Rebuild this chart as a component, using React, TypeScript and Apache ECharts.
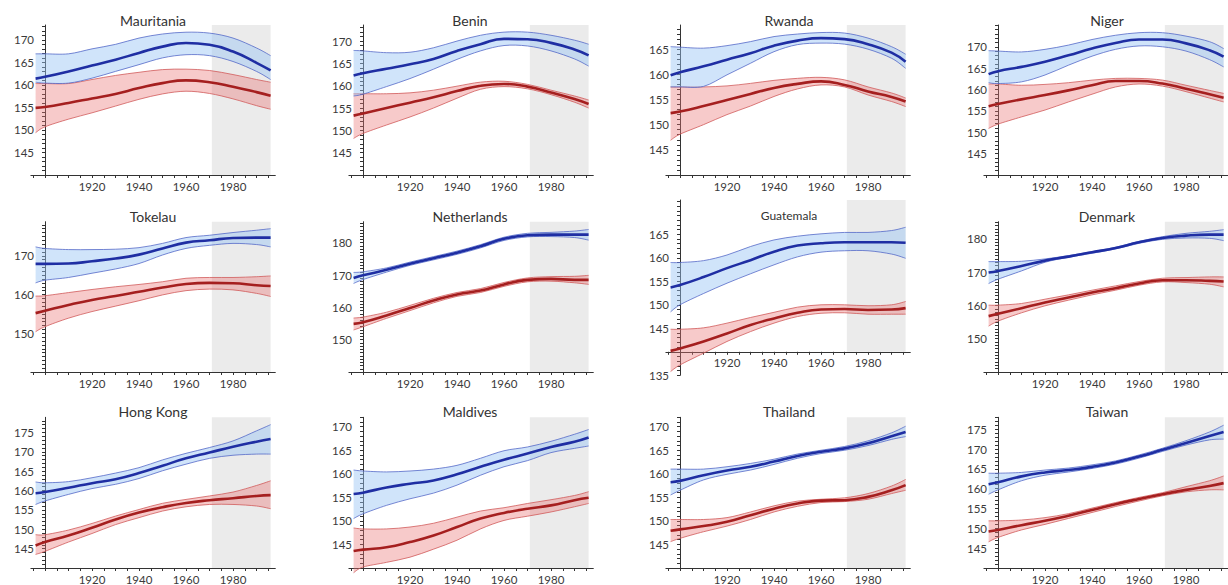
import React, { useEffect, useRef } from "react";
import * as echarts from "echarts";

// ---------- data ----------
const YEARS = [1896, 1900, 1910, 1920, 1930, 1940, 1950, 1960, 1970, 1980, 1990, 1996];
const X_LABELS = [1920, 1940, 1960, 1980];
const X_TICKS = [1895, 1900, 1905, 1910, 1915, 1920, 1925, 1930, 1935, 1940, 1945, 1950, 1955, 1960, 1965, 1970, 1975, 1980, 1985, 1990, 1995];
const SHADE_FROM = 1971;
const SHADE_TO = 1996;

const mauritania = {
  maleMean: [161.4, 161.8, 163.0, 164.3, 165.6, 167.1, 168.5, 169.3, 168.9, 167.4, 164.9, 163.2],
  maleLow: [160.6, 160.4, 160.4, 161.5, 163.0, 164.5, 166.0, 166.7, 166.5, 165.2, 163.0, 161.2],
  maleHigh: [166.9, 166.9, 166.9, 168.0, 169.0, 170.4, 171.3, 171.7, 171.5, 170.4, 168.2, 166.5],
  femMean: [154.9, 155.1, 156.0, 157.0, 158.0, 159.3, 160.4, 161.0, 160.6, 159.6, 158.4, 157.6],
  femLow: [149.4, 150.7, 152.4, 153.8, 155.3, 156.8, 158.0, 158.6, 158.1, 156.9, 155.4, 154.6],
  femHigh: [160.3, 160.3, 160.3, 161.2, 162.1, 162.8, 163.4, 163.5, 163.2, 162.3, 161.2, 160.6],
};
const benin = {
  maleMean: [162.3, 162.8, 163.8, 164.8, 166.0, 167.8, 169.3, 170.5, 170.4, 169.6, 168.1, 166.8],
  maleLow: [157.7, 158.1, 159.8, 161.6, 163.7, 165.9, 167.8, 169.0, 168.9, 167.8, 166.0, 164.4],
  maleHigh: [167.9, 167.8, 167.4, 167.5, 168.5, 170.0, 171.3, 172.0, 172.0, 171.3, 170.2, 169.3],
  femMean: [153.3, 153.8, 155.0, 156.2, 157.4, 158.8, 160.0, 160.4, 159.8, 158.5, 157.0, 155.9],
  femLow: [148.2, 149.3, 151.2, 153.0, 155.0, 157.2, 159.2, 159.8, 159.3, 158.0, 156.3, 155.0],
  femHigh: [158.2, 158.2, 158.2, 158.4, 159.0, 159.9, 160.8, 161.0, 160.3, 159.0, 157.7, 156.8],
};
const rwanda = {
  maleMean: [159.8, 160.4, 161.6, 162.9, 164.2, 165.7, 166.7, 167.2, 167.0, 166.0, 164.3, 162.5],
  maleLow: [157.5, 157.5, 157.6, 159.9, 162.2, 164.5, 165.9, 166.2, 166.0, 165.0, 163.2, 161.2],
  maleHigh: [165.5, 165.4, 165.2, 165.7, 166.5, 167.5, 168.0, 168.3, 168.2, 167.2, 165.5, 164.0],
  femMean: [152.3, 152.6, 153.7, 154.9, 156.1, 157.3, 158.1, 158.6, 157.9, 156.6, 155.5, 154.6],
  femLow: [146.9, 148.1, 150.0, 152.0, 153.7, 155.6, 157.1, 157.9, 157.5, 155.9, 154.6, 153.6],
  femHigh: [157.5, 157.5, 157.5, 157.7, 158.2, 158.8, 159.2, 159.4, 158.9, 157.5, 156.3, 155.3],
};
const niger = {
  maleMean: [163.6, 164.3, 165.3, 166.5, 168.0, 169.6, 170.9, 171.7, 171.7, 170.8, 169.2, 167.7],
  maleLow: [161.6, 161.4, 161.8, 163.4, 165.7, 167.8, 169.4, 170.2, 170.0, 169.0, 167.0, 165.3],
  maleHigh: [169.1, 169.0, 168.8, 169.4, 170.4, 171.7, 172.7, 173.3, 173.3, 172.5, 171.2, 169.6],
  femMean: [156.1, 156.6, 157.7, 158.7, 159.8, 161.0, 162.0, 162.0, 161.4, 160.2, 158.9, 158.1],
  femLow: [150.9, 151.9, 153.6, 155.2, 157.1, 158.9, 160.6, 161.3, 160.8, 159.5, 158.0, 157.1],
  femHigh: [161.3, 161.3, 161.0, 161.2, 161.6, 162.2, 162.6, 162.6, 162.2, 161.0, 159.8, 159.1],
};
const tokelau = {
  maleMean: [167.9, 167.9, 168.0, 168.6, 169.3, 170.3, 171.9, 173.4, 174.0, 174.6, 174.7, 174.7],
  maleLow: [163.0, 163.7, 164.4, 165.5, 166.6, 168.0, 170.2, 171.9, 172.7, 173.2, 172.9, 172.3],
  maleHigh: [172.3, 171.9, 171.6, 171.6, 171.7, 172.1, 173.2, 174.7, 175.3, 176.0, 176.6, 177.0],
  femMean: [155.2, 155.8, 157.3, 158.6, 159.6, 160.7, 161.8, 162.7, 163.0, 162.9, 162.4, 162.2],
  femLow: [150.4, 151.7, 153.9, 155.6, 157.0, 158.4, 159.9, 161.0, 161.4, 161.2, 160.3, 159.5],
  femHigh: [159.6, 159.7, 160.5, 161.3, 162.0, 162.6, 163.3, 164.2, 164.4, 164.4, 164.6, 164.8],
};
const netherlands = {
  maleMean: [169.1, 169.9, 171.6, 173.5, 175.2, 176.9, 178.9, 181.2, 182.3, 182.5, 182.5, 182.5],
  maleLow: [167.4, 168.6, 170.9, 173.0, 174.7, 176.4, 178.4, 180.7, 181.8, 181.9, 181.6, 180.8],
  maleHigh: [170.8, 171.0, 172.2, 174.0, 175.7, 177.4, 179.4, 181.7, 182.9, 183.2, 183.6, 184.1],
  femMean: [154.9, 155.4, 157.5, 159.8, 162.1, 164.0, 165.2, 167.1, 168.5, 168.8, 168.5, 168.5],
  femLow: [153.0, 154.0, 156.6, 159.0, 161.4, 163.4, 164.6, 166.5, 167.9, 168.1, 167.6, 167.1],
  femHigh: [156.7, 157.0, 158.5, 160.6, 162.8, 164.6, 165.8, 167.7, 169.1, 169.5, 169.6, 169.9],
};
const guatemala = {
  maleMean: [153.7, 154.2, 155.9, 157.8, 159.5, 161.3, 162.6, 163.1, 163.3, 163.3, 163.3, 163.2],
  maleLow: [148.5, 150.0, 152.4, 154.6, 156.6, 158.5, 160.2, 161.2, 161.5, 161.5, 160.8, 159.9],
  maleHigh: [159.0, 159.0, 159.4, 160.6, 162.4, 163.8, 164.6, 165.1, 165.4, 165.4, 165.8, 166.5],
  femMean: [140.2, 140.7, 142.2, 143.9, 145.7, 147.1, 148.3, 149.0, 149.1, 148.9, 149.0, 149.3],
  femLow: [135.8, 137.2, 139.7, 142.2, 144.3, 146.1, 147.5, 148.2, 148.3, 148.0, 148.0, 148.0],
  femHigh: [144.8, 144.8, 145.1, 146.1, 147.3, 148.4, 149.5, 150.0, 150.0, 149.8, 150.0, 150.7],
};
const denmark = {
  maleMean: [169.9, 170.4, 171.9, 173.5, 174.7, 176.0, 177.3, 179.0, 180.3, 181.0, 181.3, 181.3],
  maleLow: [166.6, 167.9, 170.4, 173.0, 174.5, 175.7, 177.0, 178.7, 179.9, 180.3, 180.2, 179.5],
  maleHigh: [173.2, 173.2, 173.3, 174.0, 175.0, 176.2, 177.5, 179.3, 180.7, 181.7, 182.3, 182.8],
  femMean: [156.8, 157.5, 159.2, 160.9, 162.4, 163.9, 165.2, 166.6, 167.6, 167.6, 167.4, 167.2],
  femLow: [153.8, 155.3, 157.8, 159.9, 161.6, 163.2, 164.6, 166.1, 167.1, 166.9, 166.4, 165.6],
  femHigh: [160.1, 160.1, 160.6, 161.9, 163.2, 164.6, 165.9, 167.2, 168.2, 168.4, 168.6, 168.6],
};
const hongKong = {
  maleMean: [159.3, 159.6, 160.7, 161.9, 162.9, 164.5, 166.4, 168.3, 169.8, 171.3, 172.6, 173.3],
  maleLow: [156.4, 157.3, 159.0, 160.5, 161.6, 163.1, 165.1, 166.8, 168.3, 169.1, 169.4, 169.4],
  maleHigh: [162.2, 162.0, 162.3, 163.3, 164.5, 165.9, 167.9, 169.6, 171.1, 172.8, 175.4, 177.0],
  femMean: [145.8, 146.7, 148.4, 150.4, 152.5, 154.3, 155.7, 156.8, 157.5, 158.0, 158.6, 158.8],
  femLow: [143.5, 144.3, 146.7, 148.9, 151.2, 153.0, 154.7, 155.8, 156.4, 156.4, 156.0, 155.3],
  femHigh: [148.6, 148.6, 149.8, 151.5, 153.4, 155.1, 156.7, 157.7, 158.6, 159.6, 161.3, 162.5],
};
const maldives = {
  maleMean: [155.7, 156.0, 157.1, 157.9, 158.6, 159.9, 161.5, 163.0, 164.3, 165.7, 166.8, 167.7],
  maleLow: [150.5, 151.5, 153.3, 154.7, 155.9, 157.6, 159.7, 161.5, 162.8, 164.5, 165.4, 165.9],
  maleHigh: [160.8, 160.6, 160.4, 160.6, 161.0, 161.8, 163.3, 164.9, 165.7, 166.9, 168.4, 169.4],
  femMean: [143.6, 143.9, 144.4, 145.5, 146.9, 148.7, 150.5, 151.7, 152.6, 153.3, 154.4, 154.9],
  femLow: [139.0, 140.2, 141.2, 142.3, 144.0, 145.9, 148.3, 150.1, 151.0, 151.9, 153.0, 153.7],
  femHigh: [148.5, 148.3, 148.3, 148.7, 149.5, 150.8, 152.1, 152.8, 153.7, 154.5, 155.4, 156.2],
};
const thailand = {
  maleMean: [158.2, 158.5, 159.7, 160.7, 161.5, 162.6, 163.8, 164.7, 165.4, 166.5, 168.0, 168.9],
  maleLow: [155.5, 156.5, 158.7, 159.9, 160.8, 162.0, 163.3, 164.3, 165.0, 166.0, 167.3, 167.9],
  maleHigh: [161.0, 161.0, 161.0, 161.5, 162.2, 163.1, 164.2, 165.0, 165.8, 167.0, 168.7, 170.1],
  femMean: [147.9, 148.2, 148.9, 149.8, 151.2, 152.6, 153.7, 154.3, 154.4, 155.1, 156.5, 157.6],
  femLow: [145.6, 146.3, 147.7, 148.9, 150.3, 151.9, 153.1, 153.9, 154.1, 154.6, 155.8, 156.5],
  femHigh: [150.3, 150.3, 150.3, 150.7, 151.9, 153.2, 154.2, 154.6, 154.9, 155.8, 157.4, 158.8],
};
const taiwan = {
  maleMean: [161.1, 161.6, 163.1, 164.1, 164.7, 165.5, 166.6, 168.1, 169.8, 171.5, 173.3, 174.3],
  maleLow: [158.6, 159.7, 162.0, 163.4, 164.2, 165.1, 166.2, 167.7, 169.4, 171.0, 172.3, 172.5],
  maleHigh: [163.9, 163.9, 164.1, 164.7, 165.2, 166.0, 167.0, 168.5, 170.2, 172.1, 174.3, 176.0],
  femMean: [149.2, 149.6, 150.8, 151.9, 153.2, 154.6, 156.1, 157.4, 158.6, 159.7, 160.7, 161.4],
  femLow: [146.6, 147.7, 149.6, 151.0, 152.5, 154.0, 155.5, 156.9, 158.2, 159.2, 159.7, 159.7],
  femHigh: [151.9, 151.9, 152.1, 152.7, 153.7, 155.1, 156.5, 157.8, 159.0, 160.5, 162.0, 163.2],
};

const PANELS = [
  { title: "Mauritania", d: mauritania, col: 0, row: 0, yMin: 140, yMax: 173.3, yLabels: [145, 150, 155, 160, 165, 170] },
  { title: "Benin", d: benin, col: 1, row: 0, yMin: 140, yMax: 173.6, yLabels: [145, 150, 155, 160, 165, 170] },
  { title: "Rwanda", d: rwanda, col: 2, row: 0, yMin: 140, yMax: 169.8, yLabels: [145, 150, 155, 160, 165] },
  { title: "Niger", d: niger, col: 3, row: 0, yMin: 140, yMax: 175.1, yLabels: [145, 150, 155, 160, 165, 170] },
  { title: "Tokelau", d: tokelau, col: 0, row: 1, yMin: 140, yMax: 178.8, yLabels: [150, 160, 170] },
  { title: "Netherlands", d: netherlands, col: 1, row: 1, yMin: 140, yMax: 186.5, yLabels: [150, 160, 170, 180] },
  { title: "Guatemala", d: guatemala, col: 2, row: 1, yMin: 135, yMax: 172.3, yLabels: [135, 145, 150, 155, 160, 165] },
  { title: "Denmark", d: denmark, col: 3, row: 1, yMin: 140, yMax: 185.2, yLabels: [150, 160, 170, 180] },
  { title: "Hong Kong", d: hongKong, col: 0, row: 2, yMin: 140, yMax: 178.9, yLabels: [145, 150, 155, 160, 165, 170, 175] },
  { title: "Maldives", d: maldives, col: 1, row: 2, yMin: 140, yMax: 172.0, yLabels: [145, 150, 155, 160, 165, 170] },
  { title: "Thailand", d: thailand, col: 2, row: 2, yMin: 140, yMax: 172.0, yLabels: [145, 150, 155, 160, 165, 170] },
  { title: "Taiwan", d: taiwan, col: 3, row: 2, yMin: 140, yMax: 178.0, yLabels: [145, 150, 155, 160, 165, 170, 175] },
];

// ---------- layout / style ----------
const X_MIN = 1894;
const X_MAX = 1998;
const X_CROSS = 1900; // where the vertical axis crosses
const Y_CROSS = 140; // where the horizontal axis crosses
const PPY = 2.35;
const COL_X1900 = [45, 363, 680, 998];
const ROW_TOP = [25, 221.7, 417.3];
const ROW_BOTTOM = [175, 372, 568];
const TITLE_X = [153, 470, 789, 1107];
const TITLE_Y = [20, 216, 411.5];
const FONT = "Lato, 'Open Sans', sans-serif";
const AXIS_COLOR = "#333";
const TEXT_COLOR = "#3a3a3a";

const MALE_LINE = "#1f2ea3";
const MALE_EDGE = "#5468c8";
const MALE_FILL = "rgba(150, 195, 245, 0.45)";
const FEM_LINE = "#a51f1f";
const FEM_EDGE = "#d05a5a";
const FEM_FILL = "rgba(235, 115, 115, 0.38)";

function curve(pts: number[][], start: string): string {
  let d = `${start}${pts[0][0]},${pts[0][1]}`;
  for (let i = 0; i < pts.length - 1; i++) {
    const p0 = pts[i - 1] || pts[i];
    const p1 = pts[i];
    const p2 = pts[i + 1];
    const p3 = pts[i + 2] || p2;
    const c1x = p1[0] + (p2[0] - p0[0]) / 6;
    const c1y = p1[1] + (p2[1] - p0[1]) / 6;
    const c2x = p2[0] - (p3[0] - p1[0]) / 6;
    const c2y = p2[1] - (p3[1] - p1[1]) / 6;
    d += ` C${c1x},${c1y} ${c2x},${c2y} ${p2[0]},${p2[1]}`;
  }
  return d;
}

function bandSeries(i: number, low: number[], high: number[], fill: string, edge: string) {
  return {
    type: "custom",
    xAxisIndex: i,
    yAxisIndex: i,
    silent: true,
    clip: false,
    data: YEARS.map((y, k) => [y, low[k], high[k]]),
    encode: { x: 0, y: [1, 2] },
    renderItem: (params: any, api: any) => {
      if (params.dataIndex !== 0) return null;
      const up = YEARS.map((y, k) => api.coord([y, high[k]]));
      const dn = YEARS.map((y, k) => api.coord([y, low[k]]));
      const fillD = curve(up, "M") + " " + curve([...dn].reverse(), "L") + " Z";
      return {
        type: "group",
        children: [
          { type: "path", shape: { pathData: fillD }, style: { fill, stroke: "none" } },
          { type: "path", shape: { pathData: curve(up, "M") }, style: { fill: "none", stroke: edge, lineWidth: 0.8 } },
          { type: "path", shape: { pathData: curve(dn, "M") }, style: { fill: "none", stroke: edge, lineWidth: 0.8 } },
        ],
      };
    },
  };
}

function buildOption() {
  const grid: any[] = [];
  const xAxis: any[] = [];
  const yAxis: any[] = [];
  const series: any[] = [];
  const graphic: any[] = [];

  PANELS.forEach((p, i) => {
    const isGuat = p.yMin !== Y_CROSS;
    const top = isGuat ? 200 : ROW_TOP[p.row];
    const bottom = isGuat ? 375.3 : ROW_BOTTOM[p.row];
    const height = bottom - top;
    const left = COL_X1900[p.col] - (X_CROSS - X_MIN) * PPY;
    grid.push({
      left,
      top,
      width: (X_MAX - X_MIN) * PPY,
      height,
      containLabel: false,
      outerBoundsMode: "none",
    });

    // negative offsets move the axes inside the grid, onto the crossing values
    const yAxisOffset = -(X_CROSS - X_MIN) * PPY;
    const xAxisOffset = -((Y_CROSS - p.yMin) * height) / (p.yMax - p.yMin);

    const yTicks: number[] = [];
    for (let v = p.yMin; v <= Math.floor(p.yMax); v++) yTicks.push(v);

    xAxis.push({
      type: "value",
      gridIndex: i,
      min: X_MIN,
      max: X_MAX,
      position: "bottom",
      offset: xAxisOffset,
      axisLine: { show: true, onZero: false, lineStyle: { color: AXIS_COLOR, width: 1 } },
      axisTick: { show: true, customValues: X_TICKS, length: 3, lineStyle: { color: AXIS_COLOR, width: 1 } },
      axisLabel: {
        show: true,
        customValues: X_LABELS,
        formatter: (v: number) => String(v),
        margin: 5,
        fontSize: 11.5,
        fontFamily: FONT,
        color: TEXT_COLOR,
      },
      splitLine: { show: false },
    });
    yAxis.push({
      type: "value",
      gridIndex: i,
      min: p.yMin,
      max: p.yMax,
      position: "left",
      offset: yAxisOffset,
      axisLine: { show: true, onZero: false, lineStyle: { color: AXIS_COLOR, width: 1 } },
      axisTick: { show: true, customValues: yTicks, length: 3, lineStyle: { color: AXIS_COLOR, width: 1 } },
      axisLabel: {
        show: true,
        customValues: p.yLabels,
        formatter: (v: number) => String(v),
        margin: 11,
        fontSize: 11.5,
        fontFamily: FONT,
        color: TEXT_COLOR,
      },
      splitLine: { show: false },
    });

    series.push(bandSeries(i, p.d.femLow, p.d.femHigh, FEM_FILL, FEM_EDGE));
    series.push(bandSeries(i, p.d.maleLow, p.d.maleHigh, MALE_FILL, MALE_EDGE));
    series.push({
      type: "line",
      xAxisIndex: i,
      yAxisIndex: i,
      silent: true,
      symbol: "none",
      smooth: 0.5,
      data: YEARS.map((y, k) => [y, p.d.femMean[k]]),
      lineStyle: { color: FEM_LINE, width: 2.6 },
      markArea: {
        silent: true,
        itemStyle: { color: "#ebebeb", borderWidth: 0 },
        label: { show: false },
        data: [[{ xAxis: SHADE_FROM, yAxis: Y_CROSS }, { xAxis: SHADE_TO, yAxis: p.yMax }]],
      },
    });
    series.push({
      type: "line",
      xAxisIndex: i,
      yAxisIndex: i,
      silent: true,
      symbol: "none",
      smooth: 0.5,
      data: YEARS.map((y, k) => [y, p.d.maleMean[k]]),
      lineStyle: { color: MALE_LINE, width: 2.6 },
    });

    graphic.push({
      type: "text",
      x: TITLE_X[p.col],
      y: isGuat ? 215 : TITLE_Y[p.row],
      silent: true,
      style: {
        text: p.title,
        fontSize: isGuat ? 12 : 14,
        fontFamily: FONT,
        fill: "#333",
        align: "center",
        verticalAlign: "middle",
      },
    });
  });

  return { animation: false, backgroundColor: "#ffffff", grid, xAxis, yAxis, series, graphic };
}

export default function App() {
  const ref = useRef<HTMLDivElement>(null);
  useEffect(() => {
    if (!ref.current) return;
    const chart = echarts.init(ref.current, undefined, { renderer: "svg" });
    chart.setOption(buildOption() as any);
    return () => chart.dispose();
  }, []);
  return (
    <div
      ref={ref}
      style={{ position: "absolute", left: 0, top: 0, width: 1228, height: 585, background: "#fff" }}
    />
  );
}
